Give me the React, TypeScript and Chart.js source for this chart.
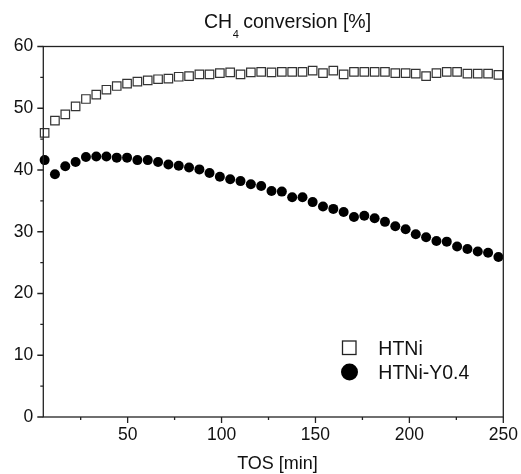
import React, { useEffect, useRef } from 'react';
import { Chart, registerables } from 'chart.js';

Chart.register(...registerables);

// ---- Data ----
const TOS = [
  5.8, 11.3, 16.8, 22.3, 27.8, 33.3, 38.7, 44.2, 49.7, 55.2,
  60.7, 66.2, 71.7, 77.2, 82.7, 88.2, 93.6, 99.1, 104.6, 110.1,
  115.6, 121.1, 126.6, 132.1, 137.6, 143.1, 148.5, 154.0, 159.5, 165.0,
  170.5, 176.0, 181.5, 187.0, 192.5, 198.0, 203.4, 208.9, 214.4, 219.9,
  225.4, 230.9, 236.4, 241.9, 247.4,
];

const HTNI = [
  46.0, 48.0, 49.0, 50.3, 51.5, 52.2, 53.0, 53.6, 54.0, 54.3,
  54.5, 54.7, 54.8, 55.1, 55.2, 55.5, 55.5, 55.7, 55.8, 55.5,
  55.8, 55.9, 55.8, 55.9, 55.9, 55.9, 56.1, 55.7, 56.1, 55.5,
  55.9, 55.9, 55.9, 55.9, 55.7, 55.7, 55.6, 55.2, 55.7, 55.9,
  55.9, 55.6, 55.6, 55.6, 55.4,
];

const HTNI_Y04 = [
  41.6, 39.3, 40.6, 41.3, 42.1, 42.2, 42.2, 42.0, 42.0, 41.6,
  41.6, 41.3, 40.9, 40.7, 40.4, 40.1, 39.5, 38.9, 38.5, 38.2,
  37.7, 37.4, 36.6, 36.5, 35.6, 35.6, 34.8, 34.1, 33.7, 33.2,
  32.4, 32.6, 32.2, 31.6, 30.9, 30.4, 29.6, 29.1, 28.5, 28.4,
  27.6, 27.2, 26.8, 26.6, 25.9,
];

const SERIES_NAMES = ['HTNi', 'HTNi-Y0.4'];
const X_TICKS = [50, 100, 150, 200, 250];
const X_MINOR = [25, 75, 125, 175, 225];
const Y_MINOR = [5, 15, 25, 35, 45, 55];
const X_MIN = 5.1;
const X_MAX = 250;
const Y_MIN = 0;
const Y_MAX = 60;
const TITLE_MAIN = 'CH';
const TITLE_SUB = '4';
const TITLE_REST = ' conversion [%]';
const X_TITLE = 'TOS [min]';

const FONT = '"Liberation Sans", Arial, Helvetica, sans-serif';
const INK = '#111';

const decorPlugin = {
  id: 'decor',
  afterDraw(chart: any) {
    const ctx = chart.ctx as CanvasRenderingContext2D;
    const { left, right, top, bottom } = chart.chartArea;
    const xs = chart.scales.x;
    const ys = chart.scales.y;
    ctx.save();
    // frame
    ctx.strokeStyle = '#222';
    ctx.lineWidth = 1.3;
    ctx.strokeRect(left, top, right - left, bottom - top);
    // y ticks
    ctx.beginPath();
    ys.ticks.forEach((t: any) => {
      const y = ys.getPixelForValue(t.value);
      ctx.moveTo(left - 6, y);
      ctx.lineTo(left, y);
    });
    Y_MINOR.forEach((v) => {
      const y = ys.getPixelForValue(v);
      ctx.moveTo(left - 3, y);
      ctx.lineTo(left, y);
    });
    // x ticks
    X_TICKS.forEach((v) => {
      const x = xs.getPixelForValue(v);
      ctx.moveTo(x, bottom);
      ctx.lineTo(x, bottom + 6);
    });
    X_MINOR.forEach((v) => {
      const x = xs.getPixelForValue(v);
      ctx.moveTo(x, bottom);
      ctx.lineTo(x, bottom + 3);
    });
    ctx.stroke();

    // title with subscript
    ctx.fillStyle = INK;
    ctx.textBaseline = 'alphabetic';
    ctx.textAlign = 'left';
    ctx.font = `19.5px ${FONT}`;
    let tx = 204;
    ctx.fillText(TITLE_MAIN, tx, 28);
    tx += ctx.measureText(TITLE_MAIN).width + 0.5;
    ctx.font = `11px ${FONT}`;
    ctx.fillText(TITLE_SUB, tx, 38);
    tx += ctx.measureText(TITLE_SUB).width - 1;
    ctx.font = `19.5px ${FONT}`;
    ctx.fillText(TITLE_REST, tx, 28);

    // x axis title
    ctx.font = `18px ${FONT}`;
    ctx.textAlign = 'center';
    ctx.fillText(X_TITLE, 277.5, 469);

    // legend
    ctx.textAlign = 'left';
    ctx.font = `19.5px ${FONT}`;
    ctx.fillStyle = '#fff';
    ctx.strokeStyle = '#222';
    ctx.lineWidth = 1.3;
    ctx.fillRect(342.5, 341, 13.5, 13.5);
    ctx.strokeRect(342.5, 341, 13.5, 13.5);
    ctx.fillStyle = '#000';
    ctx.beginPath();
    ctx.arc(349.5, 372, 8.5, 0, Math.PI * 2);
    ctx.fill();
    ctx.fillStyle = INK;
    ctx.fillText(SERIES_NAMES[0], 378.3, 354.7);
    ctx.fillText(SERIES_NAMES[1], 378.3, 379.3);
    ctx.restore();
  },
};

export default function App() {
  const ref = useRef<HTMLCanvasElement | null>(null);
  useEffect(() => {
    if (!ref.current) return;
    const chart = new Chart(ref.current, {
      type: 'scatter',
      data: {
        datasets: [
          {
            label: SERIES_NAMES[0],
            data: TOS.map((x, i) => ({ x, y: HTNI[i] })),
            pointStyle: 'rect',
            pointRadius: 6,
            backgroundColor: '#fff',
            borderColor: '#333',
            borderWidth: 1.2,
            showLine: false,
            clip: false,
          },
          {
            label: SERIES_NAMES[1],
            data: TOS.map((x, i) => ({ x, y: HTNI_Y04[i] })),
            pointStyle: 'circle',
            pointRadius: 5,
            backgroundColor: '#000',
            borderColor: '#000',
            borderWidth: 0,
            showLine: false,
            clip: false,
          },
        ],
      },
      options: {
        responsive: false,
        animation: false,
        devicePixelRatio: 1,
        layout: { padding: { top: 46.5, right: 17.7, left: 0, bottom: 0 } },
        plugins: {
          legend: { display: false },
          tooltip: { enabled: false },
          title: { display: false },
        },
        scales: {
          x: {
            type: 'linear',
            position: 'bottom',
            min: X_MIN,
            max: X_MAX,
            grid: { display: false, drawTicks: false },
            border: { display: false },
            ticks: {
              font: { size: 17.5, family: FONT },
              color: INK,
              padding: 8,
              maxRotation: 0,
              autoSkip: false,
            },
            afterBuildTicks: (s: any) => {
              s.ticks = X_TICKS.map((v) => ({ value: v }));
            },
            afterFit: (s: any) => {
              s.height = 57;
              s.paddingLeft = 0;
              s.paddingRight = 0;
            },
          },
          y: {
            type: 'linear',
            min: Y_MIN,
            max: Y_MAX,
            grid: { display: false, drawTicks: false },
            border: { display: false },
            ticks: {
              stepSize: 10,
              font: { size: 17.5, family: FONT },
              color: INK,
              padding: 10,
            },
            afterFit: (s: any) => {
              s.width = 43.3;
              s.paddingTop = 0;
              s.paddingBottom = 0;
            },
          },
        },
      },
      plugins: [decorPlugin],
    });
    return () => chart.destroy();
  }, []);
  return (
    <div style={{ position: 'fixed', left: 0, top: 0, width: 521, height: 474, background: '#fff' }}>
      <canvas ref={ref} width={521} height={474} />
    </div>
  );
}
